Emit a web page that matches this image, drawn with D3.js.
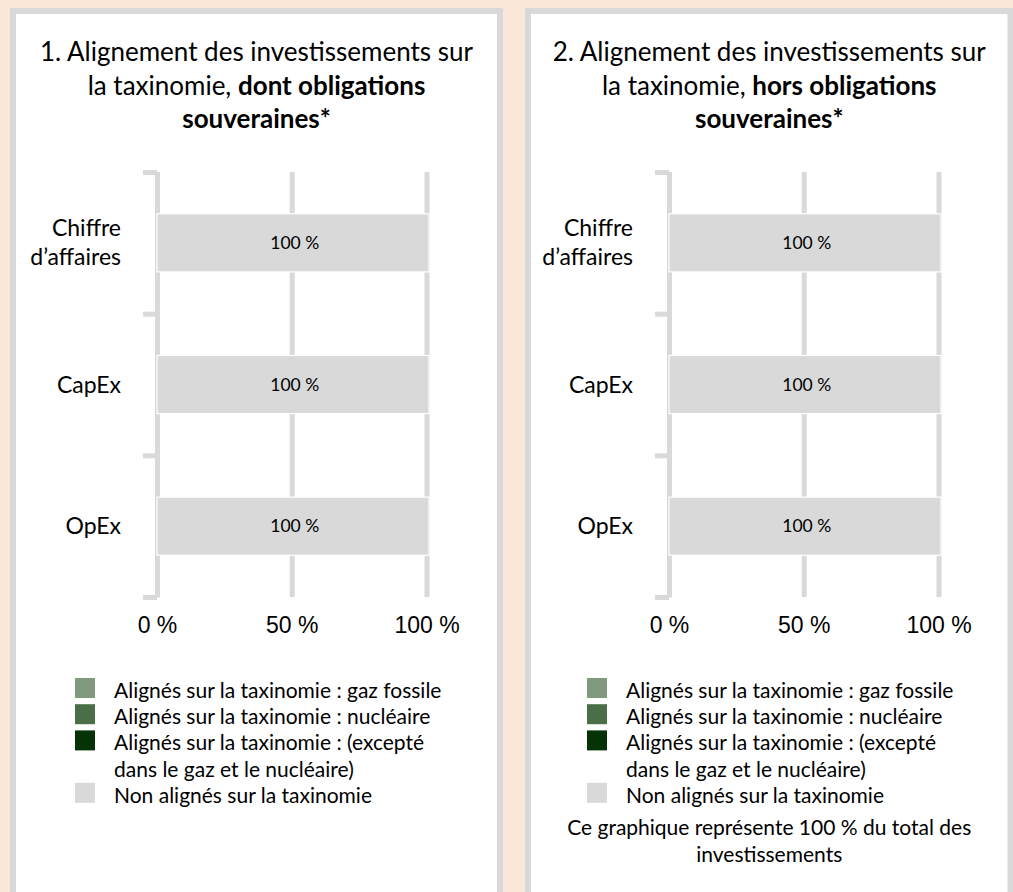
<!DOCTYPE html>
<html>
<head>
<meta charset="utf-8">
<script src="https://cdn.jsdelivr.net/npm/d3@7"></script>
<style>
  body { margin: 0; background: #fbe8d8; }
  svg { display: block; font-family: Lato, 'Open Sans', sans-serif; }
</style>
</head>
<body>
<div id="chart"></div>
<script>
// categories (wrapped as in the original)
const categories = [['Chiffre', 'd’affaires'], ['CapEx'], ['OpEx']];

// series, in stacking order
const seriesKeys = ['gaz', 'nucleaire', 'autres', 'non'];
const seriesColors = ['#7f9a7f', '#4a6e48', '#053305', '#d9d9d9'];
const legendLabels = [
  ['Alignés sur la taxinomie : gaz fossile'],
  ['Alignés sur la taxinomie : nucléaire'],
  ['Alignés sur la taxinomie : (excepté', 'dans le gaz et le nucléaire)'],
  ['Non alignés sur la taxinomie'],
];

// chart 1 : dont obligations souveraines
const gazDont = [0, 0, 0];
const nucleaireDont = [0, 0, 0];
const autresDont = [0, 0, 0];
const nonDont = [100, 100, 100];

// chart 2 : hors obligations souveraines
const gazHors = [0, 0, 0];
const nucleaireHors = [0, 0, 0];
const autresHors = [0, 0, 0];
const nonHors = [100, 100, 100];

const xTicks = [0, 50, 100];

const title1 = [
  [{ t: '1. Alignement des investissements sur', b: false }],
  [{ t: 'la taxinomie, ', b: false }, { t: 'dont obligations', b: true }],
  [{ t: 'souveraines*', b: true }],
];
const title2 = [
  [{ t: '2. Alignement des investissements sur', b: false }],
  [{ t: 'la taxinomie, ', b: false }, { t: 'hors obligations', b: true }],
  [{ t: 'souveraines*', b: true }],
];
const footnote = ['Ce graphique représente 100 % du total des', 'investissements'];

const W = 1013;
const H = 892;
const GREY = '#d9d9d9';

const svg = d3.select('#chart').append('svg').attr('width', W).attr('height', H);

function rows(gaz, nuc, aut, non) {
  return categories.map((c, i) => ({
    cat: i, gaz: gaz[i], nucleaire: nuc[i], autres: aut[i], non: non[i],
  }));
}

function drawPanel(opts) {
  const { left, right, chartX, title, data, note } = opts;
  const g = svg.append('g');

  // panel frame (runs off the bottom of the picture)
  g.append('rect')
    .attr('x', left).attr('y', 11)
    .attr('width', right - left).attr('height', H + 20)
    .attr('fill', '#fff').attr('stroke', GREY).attr('stroke-width', 6);

  const cx = (left + right) / 2;

  // title
  const tt = g.append('text')
    .attr('text-anchor', 'middle').attr('font-size', 26).attr('fill', '#000');
  title.forEach((line, i) => {
    const l = tt.append('tspan').attr('x', cx).attr('y', 61 + i * 33.5);
    line.forEach((part) => {
      l.append('tspan').attr('font-weight', part.b ? 700 : 400).text(part.t);
    });
  });

  const top = 172;
  const bottom = 597;

  const x = d3.scaleLinear().domain([0, 100]).range([chartX, chartX + 269.5]);
  const y = d3.scaleBand()
    .domain(d3.range(categories.length))
    .range([top, bottom])
    .paddingInner(0.59)
    .paddingOuter(0.295);

  // vertical gridlines + x tick labels
  const xAxis = g.append('g')
    .attr('transform', `translate(0,${bottom})`)
    .call(d3.axisBottom(x).tickValues(xTicks)
      .tickSize(-(bottom - top)).tickSizeOuter(0)
      .tickFormat((d) => `${d} %`));
  xAxis.select('.domain').remove();
  xAxis.selectAll('line').attr('stroke', GREY).attr('stroke-width', 5);
  xAxis.selectAll('text')
    .attr('y', 36).attr('dy', 0)
    .attr('font-size', 23).attr('font-family', null).attr('fill', '#000');

  // category axis: line with ticks between categories
  const yEdge = d3.scaleLinear().domain([0, categories.length]).range([top, bottom]);
  const yAxis = g.append('g')
    .attr('transform', `translate(${chartX},0)`)
    .call(d3.axisLeft(yEdge).tickValues(d3.range(categories.length + 1))
      .tickSize(14).tickSizeOuter(0).tickFormat(''));
  yAxis.select('.domain').attr('stroke', GREY).attr('stroke-width', 5);
  yAxis.selectAll('line').attr('stroke', GREY).attr('stroke-width', 5);

  // stacked bars
  const stacked = d3.stack().keys(seriesKeys)(data);
  const layers = g.append('g').selectAll('g')
    .data(stacked)
    .join('g')
    .attr('fill', (d, i) => seriesColors[i]);

  layers.selectAll('rect')
    .data((d) => d)
    .join('rect')
    .attr('x', (d) => x(d[0]))
    .attr('y', (d) => y(d.data.cat))
    .attr('width', (d) => Math.max(0, x(d[1]) - x(d[0]) + (d[1] === 100 ? 2.5 : 0)))
    .attr('height', y.bandwidth())
    .attr('stroke', (d) => (d[1] > d[0] ? '#fff' : 'none'))
    .attr('stroke-width', 1.2);

  layers.selectAll('text')
    .data((d) => d.filter((s) => s[1] > s[0]))
    .join('text')
    .attr('x', (d) => (x(d[0]) + x(d[1])) / 2 + 3)
    .attr('y', (d) => y(d.data.cat) + y.bandwidth() / 2)
    .attr('dy', '0.36em')
    .attr('text-anchor', 'middle')
    .attr('font-size', 17.5)
    .attr('fill', '#000')
    .text((d) => `${d[1] - d[0]} %`);

  // category labels
  const lineH = 29;
  g.append('g').selectAll('text')
    .data(categories)
    .join('text')
    .attr('text-anchor', 'end')
    .attr('font-size', 23)
    .attr('fill', '#000')
    .each(function (lines, i) {
      const c = y(i) + y.bandwidth() / 2 + 8 - ((lines.length - 1) * lineH) / 2;
      lines.forEach((ln, j) => {
        d3.select(this).append('tspan')
          .attr('x', chartX - 36)
          .attr('y', c + j * lineH)
          .text(ln);
      });
    });

  // legend
  const legX = chartX - 82;
  const legTop = 698;
  const legLine = 26.2;
  let row = 0;
  const leg = g.append('g');
  legendLabels.forEach((lines, i) => {
    const base = legTop + row * legLine;
    leg.append('rect')
      .attr('x', legX).attr('y', base - 20)
      .attr('width', 20).attr('height', 20)
      .attr('fill', seriesColors[i]);
    const t = leg.append('text').attr('font-size', 21).attr('fill', '#000');
    lines.forEach((ln, j) => {
      t.append('tspan').attr('x', legX + 39).attr('y', base + j * legLine).text(ln);
    });
    row += lines.length;
  });

  if (note) {
    const nt = g.append('text')
      .attr('text-anchor', 'middle').attr('font-size', 21).attr('fill', '#000');
    note.forEach((ln, j) => {
      nt.append('tspan').attr('x', cx).attr('y', 835 + j * 27).text(ln);
    });
  }
}

drawPanel({
  left: 13, right: 500, chartX: 157, title: title1,
  data: rows(gazDont, nucleaireDont, autresDont, nonDont),
});
drawPanel({
  left: 528, right: 1010.5, chartX: 669, title: title2,
  data: rows(gazHors, nucleaireHors, autresHors, nonHors),
  note: footnote,
});
</script>
</body>
</html>
